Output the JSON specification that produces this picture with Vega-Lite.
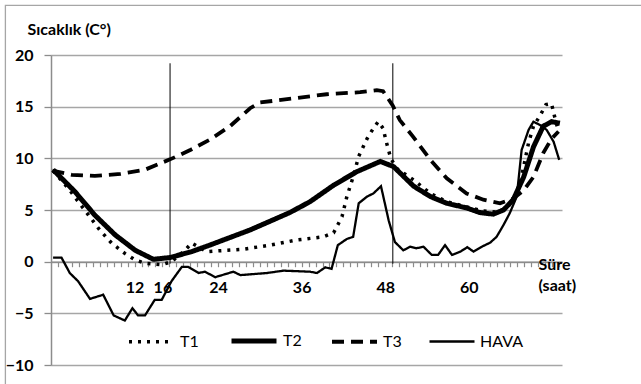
{
  "$schema": "https://vega.github.io/schema/vega-lite/v6.json",
  "width": 511,
  "height": 310,
  "autosize": {"type": "none"},
  "padding": {"left": 51, "top": 55, "right": 79, "bottom": 19},
  "background": "white",
  "config": {
    "view": {"stroke": null},
    "font": "Lato",
    "legend": {
      "orient": "none",
      "legendX": 76,
      "legendY": 261,
      "direction": "horizontal",
      "symbolType": "stroke",
      "symbolSize": 2025,
      "labelFont": "Lato",
      "labelFontSize": 16,
      "labelColor": "black",
      "labelOffset": 4,
      "columnPadding": 22,
      "padding": 0
    }
  },
  "datasets": {
    "series": [
      {"seri": "T1", "saat": 0.3, "deger": 8.8},
      {"seri": "T1", "saat": 2.6, "deger": 7.0},
      {"seri": "T1", "saat": 3.7, "deger": 6.0},
      {"seri": "T1", "saat": 5.4, "deger": 4.5},
      {"seri": "T1", "saat": 7.0, "deger": 3.07},
      {"seri": "T1", "saat": 8.7, "deger": 1.8},
      {"seri": "T1", "saat": 10.6, "deger": 0.8},
      {"seri": "T1", "saat": 12.1, "deger": 0.16},
      {"seri": "T1", "saat": 13.5, "deger": -0.15},
      {"seri": "T1", "saat": 15.9, "deger": -0.3},
      {"seri": "T1", "saat": 17.3, "deger": 0.0},
      {"seri": "T1", "saat": 19.25, "deger": 1.1},
      {"seri": "T1", "saat": 20.2, "deger": 1.8},
      {"seri": "T1", "saat": 21.1, "deger": 1.45},
      {"seri": "T1", "saat": 22.4, "deger": 0.97},
      {"seri": "T1", "saat": 23.6, "deger": 1.03},
      {"seri": "T1", "saat": 27.6, "deger": 1.2},
      {"seri": "T1", "saat": 31.5, "deger": 1.6},
      {"seri": "T1", "saat": 35.3, "deger": 2.1},
      {"seri": "T1", "saat": 39.1, "deger": 2.4},
      {"seri": "T1", "saat": 40.6, "deger": 2.8},
      {"seri": "T1", "saat": 41.8, "deger": 4.35},
      {"seri": "T1", "saat": 42.5, "deger": 6.3},
      {"seri": "T1", "saat": 43.4, "deger": 8.2},
      {"seri": "T1", "saat": 44.2, "deger": 10.2},
      {"seri": "T1", "saat": 45.4, "deger": 11.9},
      {"seri": "T1", "saat": 46.3, "deger": 12.9},
      {"seri": "T1", "saat": 47.0, "deger": 13.55},
      {"seri": "T1", "saat": 47.7, "deger": 12.9},
      {"seri": "T1", "saat": 48.2, "deger": 11.5},
      {"seri": "T1", "saat": 48.8, "deger": 10.0},
      {"seri": "T1", "saat": 49.7, "deger": 9.0},
      {"seri": "T1", "saat": 52.1, "deger": 7.9},
      {"seri": "T1", "saat": 54.5, "deger": 6.6},
      {"seri": "T1", "saat": 56.85, "deger": 5.8},
      {"seri": "T1", "saat": 59.7, "deger": 5.3},
      {"seri": "T1", "saat": 62.0, "deger": 4.9},
      {"seri": "T1", "saat": 64.0, "deger": 4.8},
      {"seri": "T1", "saat": 65.5, "deger": 5.2},
      {"seri": "T1", "saat": 66.5, "deger": 6.2},
      {"seri": "T1", "saat": 67.4, "deger": 7.6},
      {"seri": "T1", "saat": 68.6, "deger": 11.5},
      {"seri": "T1", "saat": 69.3, "deger": 13.1},
      {"seri": "T1", "saat": 70.3, "deger": 14.2},
      {"seri": "T1", "saat": 71.1, "deger": 15.2},
      {"seri": "T1", "saat": 71.9, "deger": 15.3},
      {"seri": "T1", "saat": 72.2, "deger": 14.4},
      {"seri": "T1", "saat": 72.9, "deger": 12.6},

      {"seri": "T2", "saat": 0.3, "deger": 8.9},
      {"seri": "T2", "saat": 3.4, "deger": 6.8},
      {"seri": "T2", "saat": 6.3, "deger": 4.5},
      {"seri": "T2", "saat": 9.2, "deger": 2.6},
      {"seri": "T2", "saat": 12.1, "deger": 1.1},
      {"seri": "T2", "saat": 14.7, "deger": 0.23},
      {"seri": "T2", "saat": 17.1, "deger": 0.4},
      {"seri": "T2", "saat": 20.2, "deger": 0.97},
      {"seri": "T2", "saat": 22.8, "deger": 1.6},
      {"seri": "T2", "saat": 28.6, "deger": 3.07},
      {"seri": "T2", "saat": 34.3, "deger": 4.75},
      {"seri": "T2", "saat": 37.2, "deger": 5.8},
      {"seri": "T2", "saat": 40.6, "deger": 7.4},
      {"seri": "T2", "saat": 43.9, "deger": 8.7},
      {"seri": "T2", "saat": 47.3, "deger": 9.7},
      {"seri": "T2", "saat": 49.2, "deger": 9.2},
      {"seri": "T2", "saat": 52.1, "deger": 7.3},
      {"seri": "T2", "saat": 54.5, "deger": 6.3},
      {"seri": "T2", "saat": 56.85, "deger": 5.65},
      {"seri": "T2", "saat": 59.7, "deger": 5.2},
      {"seri": "T2", "saat": 61.6, "deger": 4.75},
      {"seri": "T2", "saat": 63.5, "deger": 4.6},
      {"seri": "T2", "saat": 65.0, "deger": 5.0},
      {"seri": "T2", "saat": 66.4, "deger": 6.0},
      {"seri": "T2", "saat": 67.9, "deger": 8.2},
      {"seri": "T2", "saat": 69.3, "deger": 11.1},
      {"seri": "T2", "saat": 70.7, "deger": 13.1},
      {"seri": "T2", "saat": 71.9, "deger": 13.55},
      {"seri": "T2", "saat": 73.1, "deger": 13.4},

      {"seri": "T3", "saat": 0.2, "deger": 8.8},
      {"seri": "T3", "saat": 3.0, "deger": 8.4},
      {"seri": "T3", "saat": 6.3, "deger": 8.3},
      {"seri": "T3", "saat": 10.0, "deger": 8.5},
      {"seri": "T3", "saat": 13.5, "deger": 8.9},
      {"seri": "T3", "saat": 17.1, "deger": 9.9},
      {"seri": "T3", "saat": 20.0, "deger": 10.8},
      {"seri": "T3", "saat": 22.8, "deger": 11.8},
      {"seri": "T3", "saat": 25.7, "deger": 13.1},
      {"seri": "T3", "saat": 28.6, "deger": 14.85},
      {"seri": "T3", "saat": 30.0, "deger": 15.4},
      {"seri": "T3", "saat": 34.8, "deger": 15.8},
      {"seri": "T3", "saat": 39.6, "deger": 16.2},
      {"seri": "T3", "saat": 44.4, "deger": 16.4},
      {"seri": "T3", "saat": 46.8, "deger": 16.6},
      {"seri": "T3", "saat": 47.7, "deger": 16.5},
      {"seri": "T3", "saat": 49.1, "deger": 15.1},
      {"seri": "T3", "saat": 50.1, "deger": 13.7},
      {"seri": "T3", "saat": 52.0, "deger": 12.1},
      {"seri": "T3", "saat": 54.5, "deger": 9.85},
      {"seri": "T3", "saat": 56.85, "deger": 8.07},
      {"seri": "T3", "saat": 59.7, "deger": 6.6},
      {"seri": "T3", "saat": 62.1, "deger": 6.0},
      {"seri": "T3", "saat": 64.5, "deger": 5.65},
      {"seri": "T3", "saat": 66.4, "deger": 6.1},
      {"seri": "T3", "saat": 67.9, "deger": 6.9},
      {"seri": "T3", "saat": 69.3, "deger": 8.2},
      {"seri": "T3", "saat": 70.7, "deger": 10.5},
      {"seri": "T3", "saat": 71.9, "deger": 11.9},
      {"seri": "T3", "saat": 72.9, "deger": 12.6},

      {"seri": "HAVA", "saat": 0.3, "deger": 0.4},
      {"seri": "HAVA", "saat": 1.5, "deger": 0.4},
      {"seri": "HAVA", "saat": 2.7, "deger": -1.1},
      {"seri": "HAVA", "saat": 3.9, "deger": -1.9},
      {"seri": "HAVA", "saat": 5.6, "deger": -3.6},
      {"seri": "HAVA", "saat": 7.5, "deger": -3.2},
      {"seri": "HAVA", "saat": 9.0, "deger": -5.2},
      {"seri": "HAVA", "saat": 10.6, "deger": -5.7},
      {"seri": "HAVA", "saat": 11.7, "deger": -4.5},
      {"seri": "HAVA", "saat": 12.5, "deger": -5.2},
      {"seri": "HAVA", "saat": 13.5, "deger": -5.2},
      {"seri": "HAVA", "saat": 14.9, "deger": -3.7},
      {"seri": "HAVA", "saat": 15.9, "deger": -3.7},
      {"seri": "HAVA", "saat": 17.3, "deger": -1.9},
      {"seri": "HAVA", "saat": 18.8, "deger": -0.5},
      {"seri": "HAVA", "saat": 19.7, "deger": -0.5},
      {"seri": "HAVA", "saat": 21.2, "deger": -1.1},
      {"seri": "HAVA", "saat": 22.1, "deger": -0.97},
      {"seri": "HAVA", "saat": 23.6, "deger": -1.5},
      {"seri": "HAVA", "saat": 26.2, "deger": -0.97},
      {"seri": "HAVA", "saat": 27.2, "deger": -1.3},
      {"seri": "HAVA", "saat": 31.0, "deger": -1.1},
      {"seri": "HAVA", "saat": 33.4, "deger": -0.87},
      {"seri": "HAVA", "saat": 37.2, "deger": -0.97},
      {"seri": "HAVA", "saat": 38.2, "deger": -1.1},
      {"seri": "HAVA", "saat": 39.4, "deger": -0.55},
      {"seri": "HAVA", "saat": 40.3, "deger": -0.7},
      {"seri": "HAVA", "saat": 41.2, "deger": 1.6},
      {"seri": "HAVA", "saat": 42.5, "deger": 2.2},
      {"seri": "HAVA", "saat": 43.4, "deger": 2.4},
      {"seri": "HAVA", "saat": 44.2, "deger": 5.65},
      {"seri": "HAVA", "saat": 45.4, "deger": 6.3},
      {"seri": "HAVA", "saat": 46.3, "deger": 6.6},
      {"seri": "HAVA", "saat": 47.4, "deger": 7.3},
      {"seri": "HAVA", "saat": 48.5, "deger": 4.0},
      {"seri": "HAVA", "saat": 49.4, "deger": 1.9},
      {"seri": "HAVA", "saat": 50.6, "deger": 1.1},
      {"seri": "HAVA", "saat": 51.6, "deger": 1.45},
      {"seri": "HAVA", "saat": 52.5, "deger": 1.3},
      {"seri": "HAVA", "saat": 53.5, "deger": 1.45},
      {"seri": "HAVA", "saat": 54.7, "deger": 0.65},
      {"seri": "HAVA", "saat": 55.6, "deger": 0.65},
      {"seri": "HAVA", "saat": 56.6, "deger": 1.6},
      {"seri": "HAVA", "saat": 57.6, "deger": 0.65},
      {"seri": "HAVA", "saat": 58.8, "deger": 0.97},
      {"seri": "HAVA", "saat": 59.8, "deger": 1.4},
      {"seri": "HAVA", "saat": 60.7, "deger": 0.97},
      {"seri": "HAVA", "saat": 61.9, "deger": 1.45},
      {"seri": "HAVA", "saat": 63.1, "deger": 1.85},
      {"seri": "HAVA", "saat": 64.0, "deger": 2.4},
      {"seri": "HAVA", "saat": 65.0, "deger": 3.55},
      {"seri": "HAVA", "saat": 65.9, "deger": 4.7},
      {"seri": "HAVA", "saat": 66.9, "deger": 6.3},
      {"seri": "HAVA", "saat": 67.6, "deger": 10.8},
      {"seri": "HAVA", "saat": 68.6, "deger": 12.75},
      {"seri": "HAVA", "saat": 69.3, "deger": 13.55},
      {"seri": "HAVA", "saat": 70.3, "deger": 13.2},
      {"seri": "HAVA", "saat": 71.2, "deger": 12.75},
      {"seri": "HAVA", "saat": 72.2, "deger": 11.6},
      {"seri": "HAVA", "saat": 73.0, "deger": 9.85}
    ],
    "rules": [{"saat": 17.1}, {"saat": 49.1}],
    "frame": [{"ad": "cerceve"}]
  },
  "layer": [
    {
      "encoding": {
        "x": {
          "field": "saat", "type": "quantitative",
          "scale": {"domain": [0, 73.4], "nice": false, "zero": false},
          "axis": {
            "orient": "bottom",
            "offset": -103.3,
            "values": [1,2,3,4,5,6,7,8,9,10,11,12,13,14,15,16,17,18,19,20,21,22,23,24,25,26,27,28,29,30,31,32,33,34,35,36,37,38,39,40,41,42,43,44,45,46,47,48,49,50,51,52,53,54,55,56,57,58,59,60,61,62,63,64,65,66,67,68,69,70,71,72,73],
            "labelExpr": "indexof([12,16,24,36,48,60], datum.value) >= 0 ? datum.label : ''",
            "grid": false,
            "tickSize": 5,
            "tickColor": "#8c8c8c",
            "tickWidth": 1.2,
            "domainColor": "#8c8c8c",
            "domainWidth": 1.5,
            "labelFont": "Lato",
            "labelFontSize": 16,
            "labelFontWeight": "bold",
            "labelColor": "black",
            "labelPadding": 13,
            "labelOverlap": false,
            "labelFlush": false,
            "title": ["Süre", "(saat)"],
            "titleFont": "Lato",
            "titleFontSize": 16,
            "titleFontWeight": "bold",
            "titleColor": "black",
            "titleAlign": "left",
            "titleBaseline": "alphabetic",
            "titleX": 487,
            "titleY": 8,
            "titleLineHeight": 21
          }
        }
      },
      "layer": [
        {
          "data": {"name": "series"},
          "mark": {"type": "line", "interpolate": "linear"},
          "encoding": {
            "y": {
              "field": "deger", "type": "quantitative",
              "scale": {"domain": [-10, 20], "nice": false},
              "axis": {
                "values": [-10, -5, 0, 5, 10, 15, 20],
                "grid": true,
                "gridColor": "#a6a6a6",
                "gridWidth": 1.3,
                "tickSize": 7,
                "tickColor": "#8c8c8c",
                "tickWidth": 1.3,
                "domainColor": "#8c8c8c",
                "domainWidth": 1.5,
                "labelFont": "Lato",
                "labelFontSize": 16,
                "labelFontWeight": "bold",
                "labelColor": "black",
                "labelPadding": 11,
                "labelOverlap": false,
                "title": "Sıcaklık (C°)",
                "titleFont": "Lato",
                "titleFontSize": 16,
                "titleFontWeight": "bold",
                "titleColor": "black",
                "titleAngle": 0,
                "titleAlign": "left",
                "titleBaseline": "alphabetic",
                "titleX": -24,
                "titleY": -21
              }
            },
            "color": {
              "field": "seri", "type": "nominal",
              "scale": {"domain": ["T1", "T2", "T3", "HAVA"], "range": ["black", "black", "black", "black"]},
              "legend": {"title": null}
            },
            "strokeDash": {
              "field": "seri", "type": "nominal",
              "scale": {"domain": ["T1", "T2", "T3", "HAVA"], "range": [[3, 6], [1, 0], [12, 7], [1, 0]]},
              "legend": {"title": null}
            },
            "strokeWidth": {
              "field": "seri", "type": "nominal",
              "scale": {"type": "ordinal", "domain": ["T1", "T2", "T3", "HAVA"], "range": [3.5, 5, 3.8, 2.3]},
              "legend": {"title": null}
            }
          }
        },
        {
          "data": {"name": "rules"},
          "mark": {"type": "rule", "color": "black", "strokeWidth": 1},
          "encoding": {
            "y": {"datum": 19.2, "type": "quantitative"},
            "y2": {"datum": -0.2}
          }
        }
      ]
    },
    {
      "data": {"name": "frame"},
      "mark": {"type": "rect", "filled": false, "stroke": "#a6a6a6", "strokeWidth": 1.3},
      "encoding": {
        "x": {
          "datum": -6.55, "type": "quantitative",
          "scale": {"domain": [0, 73.4], "nice": false, "zero": false},
          "axis": {
            "orient": "bottom",
            "offset": -103.3,
            "values": [1,2,3,4,5,6,7,8,9,10,11,12,13,14,15,16,17,18,19,20,21,22,23,24,25,26,27,28,29,30,31,32,33,34,35,36,37,38,39,40,41,42,43,44,45,46,47,48,49,50,51,52,53,54,55,56,57,58,59,60,61,62,63,64,65,66,67,68,69,70,71,72,73],
            "labelExpr": "indexof([12,16,24,36,48,60], datum.value) >= 0 ? datum.label : ''",
            "grid": false,
            "tickSize": 5,
            "tickColor": "#8c8c8c",
            "tickWidth": 1.2,
            "domainColor": "#8c8c8c",
            "domainWidth": 1.5,
            "labelFont": "Lato",
            "labelFontSize": 16,
            "labelFontWeight": "bold",
            "labelColor": "black",
            "labelPadding": 13,
            "labelOverlap": false,
            "labelFlush": false,
            "title": ["Süre", "(saat)"],
            "titleFont": "Lato",
            "titleFontSize": 16,
            "titleFontWeight": "bold",
            "titleColor": "black",
            "titleAlign": "left",
            "titleBaseline": "alphabetic",
            "titleX": 487,
            "titleY": 8,
            "titleLineHeight": 21
          }
        },
        "x2": {"datum": 120},
        "y": {
          "datum": 24.8, "type": "quantitative",
          "scale": {"domain": [-10, 20], "nice": false}
        },
        "y2": {"datum": -40}
      }
    }
  ]
}
